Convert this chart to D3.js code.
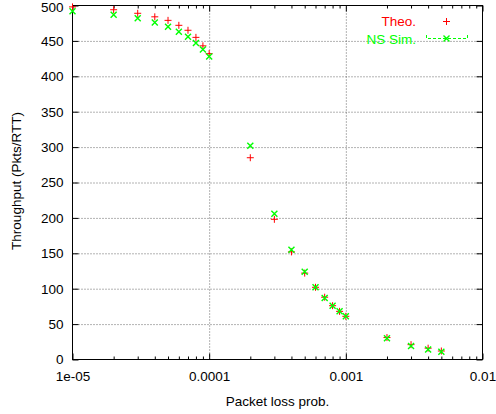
<!DOCTYPE html>
<html>
<head>
<meta charset="utf-8">
<script src="https://cdn.jsdelivr.net/npm/d3@7"></script>
<style>
  html, body { margin: 0; padding: 0; background: #fff; }
  svg { display: block; font-family: "Liberation Sans", Arial, sans-serif; }
</style>
</head>
<body>
<svg id="chart" width="496" height="414"></svg>
<script>
// Packet loss probability (x) and throughput in packets per RTT
const lossProb = [1e-5, 2e-5, 3e-5, 4e-5, 5e-5, 6e-5, 7e-5, 8e-5, 9e-5, 1e-4,
                  2e-4, 3e-4, 4e-4, 5e-4, 6e-4, 7e-4, 8e-4, 9e-4, 1e-3,
                  2e-3, 3e-3, 4e-3, 5e-3];
const theoThroughput = [498, 494, 489, 484, 479, 472, 465, 455, 443, 432,
                        285, 198, 152, 122, 102, 88, 76, 68, 61,
                        31, 21, 16, 12];
const simThroughput = [492, 487, 482, 476, 470, 463, 456, 447, 438, 428,
                       302, 206, 155, 124, 102, 87, 76, 68, 61,
                       30, 19, 14, 11];

const yTicks = [0, 50, 100, 150, 200, 250, 300, 350, 400, 450, 500];
const xTicks = [1e-5, 1e-4, 1e-3, 1e-2];
const xTickLabels = ["1e-05", "0.0001", "0.001", "0.01"];
const xMinorTicks = [2, 3, 4, 5, 6, 7, 8, 9].flatMap(m => [1e-5, 1e-4, 1e-3].map(d => m * d));

const seriesNames = ["Theo.", "NS Sim."];
const colors = ["#ff0000", "#00ff00"];

const svg = d3.select("#chart");
const plotLeft = 72.5, plotRight = 482.5, plotTop = 5.5, plotBottom = 359.5;
const plotW = plotRight - plotLeft, plotH = plotBottom - plotTop;

const x = d3.scaleLog().domain([1e-5, 1e-2]).range([plotLeft, plotRight]);
const y = d3.scaleLinear().domain([0, 500]).range([plotBottom, plotTop]);

const fontSize = 13.5;

// Dotted grid
const grid = svg.append("g").attr("class", "grid");
grid.append("g")
  .attr("transform", `translate(${plotLeft},0)`)
  .call(d3.axisLeft(y).tickValues(yTicks.filter(v => v > 0 && v < 500)).tickSize(-plotW).tickFormat(""))
  .call(g => g.select(".domain").remove());
grid.append("g")
  .attr("transform", `translate(0,${plotBottom})`)
  .call(d3.axisBottom(x).tickValues([1e-4, 1e-3]).tickSize(-plotH).tickFormat(""))
  .call(g => g.select(".domain").remove());
grid.selectAll("line").attr("stroke", "#666").attr("stroke-dasharray", "1,2").attr("stroke-width", 1);

// Axes with inward ticks on all four sides
function styleAxis(g) {
  g.select(".domain").remove();
  g.selectAll("line").attr("stroke", "#000");
  g.selectAll("text").attr("font-size", fontSize).attr("fill", "#000")
    .attr("font-family", "Liberation Sans, Arial, sans-serif");
}
svg.append("g").attr("transform", `translate(${plotLeft},0)`)
  .call(d3.axisLeft(y).tickValues(yTicks).tickSize(-6).tickPadding(9))
  .call(styleAxis)
  // keep the topmost label inside the canvas
  .call(g => g.selectAll(".tick text").filter(d => d === 500).attr("dy", "0.45em"));
svg.append("g").attr("transform", `translate(${plotRight},0)`)
  .call(d3.axisRight(y).tickValues(yTicks).tickSize(-6).tickFormat(""))
  .call(styleAxis);
svg.append("g").attr("transform", `translate(0,${plotBottom})`)
  .call(d3.axisBottom(x).tickValues(xTicks).tickSize(-6).tickPadding(12)
    .tickFormat((d, i) => xTickLabels[i]))
  .call(styleAxis);
svg.append("g").attr("transform", `translate(0,${plotBottom})`)
  .call(d3.axisBottom(x).tickValues(xMinorTicks).tickSize(-3).tickFormat(""))
  .call(styleAxis);
svg.append("g").attr("transform", `translate(0,${plotTop})`)
  .call(d3.axisTop(x).tickValues(xTicks).tickSize(-6).tickFormat(""))
  .call(styleAxis);
svg.append("g").attr("transform", `translate(0,${plotTop})`)
  .call(d3.axisTop(x).tickValues(xMinorTicks).tickSize(-3).tickFormat(""))
  .call(styleAxis);

// Plot border
svg.append("rect")
  .attr("x", plotLeft).attr("y", plotTop).attr("width", plotW).attr("height", plotH)
  .attr("fill", "none").attr("stroke", "#000").attr("stroke-width", 1);

// Axis titles
svg.append("text")
  .attr("transform", `translate(21,181) rotate(-90)`)
  .attr("text-anchor", "middle")
  .attr("font-size", fontSize)
  .text("Throughput (Pkts/RTT)");
svg.append("text")
  .attr("x", (plotLeft + plotRight) / 2).attr("y", 406)
  .attr("text-anchor", "middle")
  .attr("font-size", fontSize)
  .text("Packet loss prob.");

// Point markers
const plusPath = s => `M${-s},0H${s}M0,${-s}V${s}`;
const crossPath = s => `M${-s},${-s}L${s},${s}M${-s},${s}L${s},${-s}`;

const theo = lossProb.map((p, i) => ({ p, v: theoThroughput[i] }));
const sim = lossProb.map((p, i) => ({ p, v: simThroughput[i] }));

svg.append("g").selectAll("path").data(theo).join("path")
  .attr("transform", d => `translate(${x(d.p)},${y(d.v)})`)
  .attr("d", plusPath(3.5))
  .attr("stroke", colors[0]).attr("stroke-width", 1).attr("fill", "none");

svg.append("g").selectAll("path").data(sim).join("path")
  .attr("transform", d => `translate(${x(d.p)},${y(d.v)})`)
  .attr("d", crossPath(3))
  .attr("stroke", colors[1]).attr("stroke-width", 1.4).attr("fill", "none");

// Legend
const legend = svg.append("g");
legend.append("text").attr("x", 416).attr("y", 26).attr("text-anchor", "end")
  .attr("font-size", fontSize).attr("fill", colors[0]).text(seriesNames[0]);
legend.append("path").attr("transform", "translate(446.5,21.5)")
  .attr("d", plusPath(3.5)).attr("stroke", colors[0]).attr("fill", "none");
legend.append("text").attr("x", 416).attr("y", 43.5).attr("text-anchor", "end")
  .attr("font-size", fontSize).attr("fill", colors[1]).text(seriesNames[1]);
legend.append("path")
  .attr("d", "M426.5,35V38.5H467.5V35")
  .attr("stroke", colors[1]).attr("stroke-dasharray", "3,2").attr("fill", "none");
legend.append("path").attr("transform", "translate(446.5,38.5)")
  .attr("d", crossPath(3)).attr("stroke", colors[1]).attr("stroke-width", 1.4).attr("fill", "none");
</script>
</body>
</html>
